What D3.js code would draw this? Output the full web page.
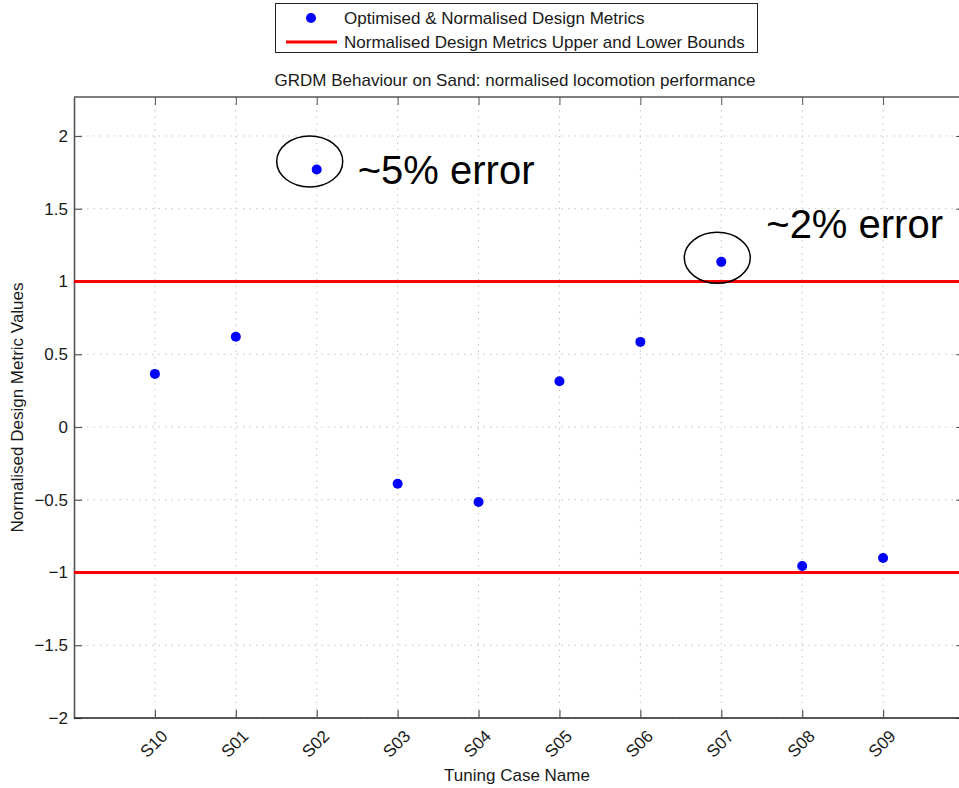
<!DOCTYPE html>
<html>
<head>
<meta charset="utf-8">
<script src="https://cdn.jsdelivr.net/npm/d3@7"></script>
<style>
  html, body { margin: 0; padding: 0; background: #fff; }
  svg { display: block; font-family: "Liberation Sans", Arial, Helvetica, sans-serif; }
</style>
</head>
<body>
<svg id="chart" width="959" height="788"></svg>
<script>
// Tuning cases and their optimised, normalised design metric values
const cases = ["S10", "S01", "S02", "S03", "S04", "S05", "S06", "S07", "S08", "S09"];
const metricValues = [0.365, 0.62, 1.77, -0.39, -0.515, 0.315, 0.585, 1.135, -0.955, -0.9];
const bounds = [1, -1];
const yTicks = [-2, -1.5, -1, -0.5, 0, 0.5, 1, 1.5, 2];
const annotations = [
  { caseName: "S02", text: "~5% error", dx: -7, dy: -8, tx: 48, ty: 23 },
  { caseName: "S07", text: "~2% error", dx: -4, dy: -4, tx: 49, ty: -20 }
];

const svg = d3.select("#chart");
const plot = { left: 74, top: 97, right: 964, bottom: 718 };

const x = d3.scaleLinear().domain([0, cases.length + 1]).range([plot.left, plot.right]);
const y = d3.scaleLinear().domain([-2, 2.268]).range([plot.bottom, plot.top]);
const xPos = name => x(cases.indexOf(name) + 1);

const textColor = "#1a1a1a";

// Dotted grid
const grid = svg.append("g").attr("stroke", "#c4c4c4").attr("stroke-width", 1)
  .attr("stroke-dasharray", "1.5,5");
grid.selectAll("line.h").data(yTicks).join("line").attr("class", "h")
  .attr("x1", plot.left).attr("x2", plot.right)
  .attr("y1", d => y(d)).attr("y2", d => y(d));
grid.selectAll("line.v").data(cases).join("line").attr("class", "v")
  .attr("x1", d => xPos(d)).attr("x2", d => xPos(d))
  .attr("y1", plot.top).attr("y2", plot.bottom);

// Axes (ticks drawn inward, as on a boxed plot)
const yAxis = d3.axisLeft(y).tickValues(yTicks).tickSizeInner(-8).tickSizeOuter(0)
  .tickPadding(6).tickFormat(d => d3.format("")(d).replace("-", "\u2212"));
const gy = svg.append("g").attr("transform", `translate(${plot.left},0)`).call(yAxis);
gy.select(".domain").attr("stroke", "#555").attr("stroke-width", 1.6);
gy.selectAll(".tick line").attr("stroke", "#555").attr("stroke-width", 1.2);
gy.selectAll(".tick text").attr("font-size", 17).attr("fill", textColor)
  .attr("font-family", "Liberation Sans, Arial, sans-serif");

const yAxisR = d3.axisRight(y).tickValues(yTicks).tickSizeInner(-8).tickSizeOuter(0).tickFormat("");
const gyr = svg.append("g").attr("transform", `translate(${plot.right},0)`).call(yAxisR);
gyr.select(".domain").attr("stroke", "#555").attr("stroke-width", 1.6);
gyr.selectAll(".tick line").attr("stroke", "#555");

const xTickScale = d3.scalePoint().domain(cases)
  .range([x(1), x(cases.length)]);
const xAxis = d3.axisBottom(xTickScale).tickSizeInner(-8).tickSizeOuter(0);
const gx = svg.append("g").attr("transform", `translate(0,${plot.bottom})`).call(xAxis);
gx.select(".domain").attr("stroke", "#222").attr("stroke-width", 1.6)
  .attr("d", `M${plot.left},0H${plot.right}`);
gx.selectAll(".tick line").attr("stroke", "#555").attr("stroke-width", 1.2);
gx.selectAll(".tick text")
  .attr("font-size", 17).attr("fill", textColor)
  .attr("font-family", "Liberation Sans, Arial, sans-serif")
  .attr("text-anchor", "end")
  .attr("dy", "0.35em").attr("y", 0)
  .attr("transform", "translate(9,15) rotate(-45)");

const xAxisTop = d3.axisTop(xTickScale).tickSizeInner(-8).tickSizeOuter(0).tickFormat("");
const gxt = svg.append("g").attr("transform", `translate(0,${plot.top})`).call(xAxisTop);
gxt.select(".domain").attr("stroke", "#555").attr("stroke-width", 1.6)
  .attr("d", `M${plot.left},0H${plot.right}`);
gxt.selectAll(".tick line").attr("stroke", "#555");

// Upper and lower bounds
svg.append("g").selectAll("line").data(bounds).join("line")
  .attr("x1", plot.left).attr("x2", plot.right)
  .attr("y1", d => y(d)).attr("y2", d => y(d))
  .attr("stroke", "#ff0000").attr("stroke-width", 3);

// Metric points
svg.append("g").selectAll("circle").data(cases).join("circle")
  .attr("cx", d => xPos(d))
  .attr("cy", (d, i) => y(metricValues[i]))
  .attr("r", 5).attr("fill", "#0000ff");

// Error annotations
const ann = svg.append("g");
annotations.forEach(a => {
  const i = cases.indexOf(a.caseName);
  const cx = xPos(a.caseName) + a.dx, cy = y(metricValues[i]) + a.dy;
  ann.append("ellipse").attr("cx", cx).attr("cy", cy).attr("rx", 33).attr("ry", 25.5)
    .attr("fill", "none").attr("stroke", "#000").attr("stroke-width", 1.5);
  ann.append("text").attr("x", cx + a.tx).attr("y", cy + a.ty)
    .attr("font-size", 40).attr("fill", "#000").text(a.text);
});

// Titles
svg.append("text").attr("x", 515).attr("y", 86).attr("text-anchor", "middle")
  .attr("font-size", 17).attr("fill", textColor)
  .text("GRDM Behaviour on Sand: normalised locomotion performance");
svg.append("text").attr("x", 517).attr("y", 781).attr("text-anchor", "middle")
  .attr("font-size", 17).attr("fill", textColor).text("Tuning Case Name");
svg.append("text").attr("transform", `translate(23,${(plot.top + plot.bottom) / 2}) rotate(-90)`)
  .attr("text-anchor", "middle").attr("font-size", 17).attr("fill", textColor)
  .text("Normalised Design Metric Values");

// Legend
const legend = svg.append("g");
legend.append("rect").attr("x", 275.5).attr("y", 3.5).attr("width", 482).attr("height", 49)
  .attr("fill", "#fff").attr("stroke", "#222").attr("stroke-width", 1);
legend.append("circle").attr("cx", 311).attr("cy", 18).attr("r", 5).attr("fill", "#0000ff");
legend.append("line").attr("x1", 286).attr("x2", 337).attr("y1", 42).attr("y2", 42)
  .attr("stroke", "#ff0000").attr("stroke-width", 3);
legend.append("text").attr("x", 344).attr("y", 24).attr("font-size", 17).attr("fill", textColor)
  .text("Optimised & Normalised Design Metrics");
legend.append("text").attr("x", 344).attr("y", 48).attr("font-size", 17).attr("fill", textColor)
  .text("Normalised Design Metrics Upper and Lower Bounds");
</script>
</body>
</html>
